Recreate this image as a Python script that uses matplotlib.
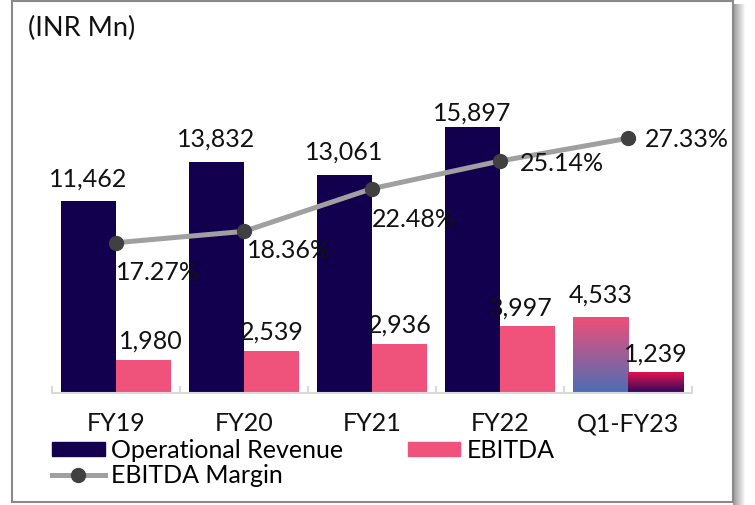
import numpy as np
import matplotlib
matplotlib.use("Agg")
import matplotlib.pyplot as plt
from matplotlib.patches import Rectangle
from matplotlib.lines import Line2D
from matplotlib.colors import LinearSegmentedColormap

plt.rcParams["font.family"] = ["Lato", "DejaVu Sans"]

# -------------------------------------------------------------------
# DATA
# -------------------------------------------------------------------
categories = ["FY19", "FY20", "FY21", "FY22", "Q1-FY23"]
revenue = [11462, 13832, 13061, 15897, 4533]
ebitda = [1980, 2539, 2936, 3997, 1239]
margin = [17.27, 18.36, 22.48, 25.14, 27.33]

NAVY = "#12004F"
PINK = "#EF527A"
LINE_GREY = "#A0A0A0"
DOT_GREY = "#404040"

W, H = 755, 505
fig = plt.figure(figsize=(W / 100, H / 100), dpi=100)

# plot area in pixels: x 52..692, y 92..393 (top origin)
ax = fig.add_axes([52 / W, (H - 393) / H, 640 / W, 301 / H])
ax2 = ax.twinx()

x = np.arange(len(categories))
bw = 0.43

rev_bars = ax.bar(x - bw / 2, revenue, bw, color=NAVY, zorder=2)
ebit_bars = ax.bar(x + bw / 2, ebitda, bw, color=PINK, zorder=2)


def gradient_fill(bar, top_color, bottom_color):
    bar.set_facecolor("none")
    x0, y0 = bar.get_x(), bar.get_y()
    cmap = LinearSegmentedColormap.from_list("g", [bottom_color, top_color])
    grad = np.linspace(0, 1, 256).reshape(-1, 1)
    im = ax.imshow(grad, extent=(x0, x0 + bar.get_width(), y0, y0 + bar.get_height()),
                   origin="lower", aspect="auto", cmap=cmap, zorder=2)
    im.set_clip_path(bar)


# last period drawn with gradients, as in the slide
gradient_fill(rev_bars[-1], "#EE4F78", "#4C6EB4")
gradient_fill(ebit_bars[-1], "#E3124F", "#2A0A5C")

ax.set_xlim(-0.5, len(categories) - 0.5)
ax.set_ylim(0, 18000)

# value labels
rev_dy = [8, 8, 8, 2, 8]
for i, v in enumerate(revenue):
    ax.annotate(f"{v:,}", (x[i] - bw / 2, v), xytext=(0, rev_dy[i]),
                textcoords="offset points", ha="center", va="bottom",
                fontsize=18, color="#111111", zorder=5)
ebit_dx = [5, 0, 0, -5, 0]
for i, v in enumerate(ebitda):
    ax.annotate(f"{v:,}", (x[i] + bw / 2, v), xytext=(ebit_dx[i], 5),
                textcoords="offset points", ha="center", va="bottom",
                fontsize=18, color="#111111", zorder=5)

# axis styling
for s in ["top", "left", "right"]:
    ax.spines[s].set_visible(False)
ax.spines["bottom"].set_color("#D9D9D9")
ax.spines["bottom"].set_linewidth(1.5)
ax.set_yticks([])
ax.set_xticks(x)
ax.set_xticklabels(categories, fontsize=18, color="#111111")
ax.tick_params(axis="x", which="major", length=0, pad=14)
ax.set_xticks(np.arange(-0.5, len(categories)), minor=True)
ax.tick_params(axis="x", which="minor", direction="in", length=5,
               width=1.5, color="#D9D9D9")

# margin line on secondary axis
ax2.plot(x, margin, color=LINE_GREY, lw=3.6, marker="o", markersize=10,
         markerfacecolor=DOT_GREY, markeredgecolor=DOT_GREY, zorder=4)
ax2.set_ylim(2.79, 31.79)
ax2.set_yticks([])
for s in ax2.spines.values():
    s.set_visible(False)

margin_off = [(0, -21.5), (2, -14), (0, -22), (14, -1.5), (12, -1)]
for i, v in enumerate(margin):
    ax2.annotate(f"{v:.2f}%", (x[i], v), xytext=margin_off[i],
                 textcoords="offset points", ha="left", va="center",
                 fontsize=18, color="#111111", zorder=5)

# unit note
fig.text(28 / W, 1 - 28 / H, "(INR Mn)", fontsize=19.5, color="#111111",
         ha="left", va="center")

# legend
handles = [
    Rectangle((0, 0), 1, 1, color=NAVY),
    Line2D([], [], color=LINE_GREY, lw=3.6, marker="o", markersize=10,
           markerfacecolor=DOT_GREY, markeredgecolor=DOT_GREY),
    Rectangle((0, 0), 1, 1, color=PINK),
]
labels = ["Operational Revenue", "EBITDA Margin", "EBITDA"]
fig.legend(handles, labels, loc="upper left",
           bbox_to_anchor=(52 / W, 1 - 439 / H), ncol=2, frameon=False,
           fontsize=18, handlelength=2.1, handleheight=0.5,
           handletextpad=0.25, columnspacing=2.6, labelspacing=0.08,
           borderpad=0, borderaxespad=0)

# slide frame with a soft shadow on the right
for k in range(12):
    fig.patches.append(Rectangle(((733 + k) / W, 0), 1 / W, 1 - 4 / H,
                                 transform=fig.transFigure,
                                 color=str(0.6 + 0.4 * k / 12), lw=0,
                                 zorder=0))
fig.patches.append(Rectangle((12 / W, (H - 502) / H), 721 / W, 501 / H,
                             transform=fig.transFigure, fill=False,
                             edgecolor="#8A8A8A", lw=1.5, zorder=1))

fig.savefig("out.png", dpi=100)
